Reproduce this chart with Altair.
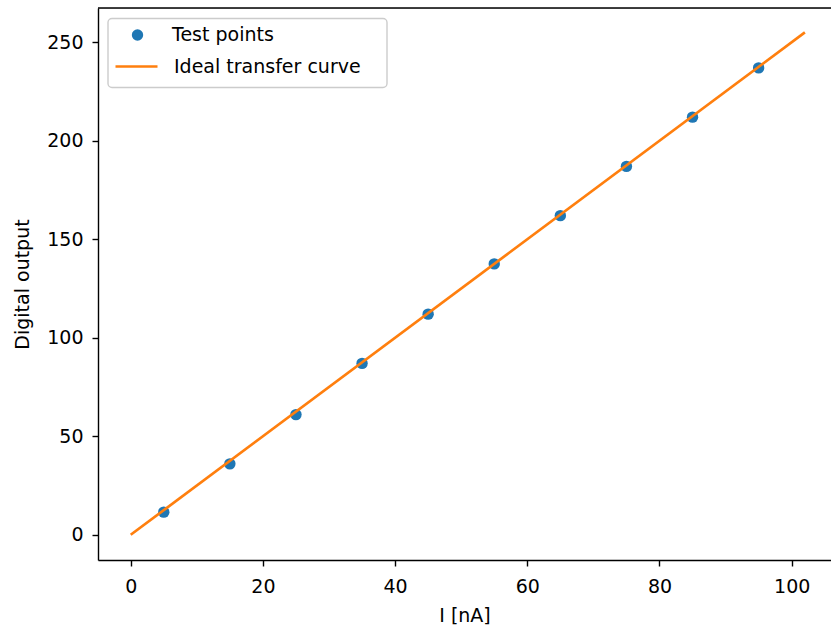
import altair as alt
import pandas as pd

# Measured ADC codes for the test currents
test_current_na = [5, 15, 25, 35, 45, 55, 65, 75, 85, 95]
test_code = [11.5, 36, 61, 87, 112, 137.5, 162, 187, 212, 237]

# Ideal transfer curve end points
ideal_current_na = [0, 102]
ideal_code = [0, 255]

FONT = "DejaVu Sans"
FS = 19
W, H = 733, 552

points_df = pd.DataFrame({"I": test_current_na, "code": test_code, "series": "Test points"})
ideal_df = pd.DataFrame({"I": ideal_current_na, "code": ideal_code, "series": "Ideal transfer curve"})
one = pd.DataFrame({"k": [0]})

x_scale = alt.Scale(domain=[-4.95, 105.95], nice=False, zero=False)
y_scale = alt.Scale(domain=[-12.8, 267.4], nice=False, zero=False)

x_axis = alt.Axis(values=[0, 20, 40, 60, 80, 100], title="I [nA]", grid=False,
                  tickSize=6, tickWidth=1.4, tickColor="black",
                  domainColor="black", domainWidth=1.4,
                  labelFont=FONT, labelFontSize=FS, labelColor="black", labelPadding=11,
                  titleFont=FONT, titleFontSize=FS, titleFontWeight="normal",
                  titleColor="black", titlePadding=10)
y_axis = alt.Axis(values=[0, 50, 100, 150, 200, 250], title="Digital output", grid=False,
                  tickSize=6, tickWidth=1.4, tickColor="black",
                  domainColor="black", domainWidth=1.4,
                  labelFont=FONT, labelFontSize=FS, labelColor="black", labelPadding=9,
                  titleFont=FONT, titleFontSize=FS, titleFontWeight="normal",
                  titleColor="black", titleX=-76, titleBaseline="middle")

# Legend frame
frame = alt.Chart(one).mark_rect(
    fill="white", stroke="#cccccc", strokeWidth=1.4, cornerRadius=4
).encode(x=alt.value(10), x2=alt.value(289), y=alt.value(10.5), y2=alt.value(79.5))

# Top spine
top_spine = alt.Chart(one).mark_rule(color="black", strokeWidth=1.4).encode(
    x=alt.value(0), x2=alt.value(W), y=alt.value(0)
)

pts = alt.Chart(points_df).mark_point(filled=True, size=130, opacity=1).encode(
    x=alt.X("I:Q", scale=x_scale, axis=x_axis),
    y=alt.Y("code:Q", scale=y_scale, axis=y_axis),
    color=alt.Color("series:N",
                    scale=alt.Scale(domain=["Test points"], range=["#1f77b4"]),
                    legend=alt.Legend(title=None, orient="none", legendX=30, legendY=17.5,
                                      padding=0, symbolType="circle", symbolSize=130,
                                      symbolStrokeWidth=0, labelOffset=25, labelLimit=0,
                                      labelFont=FONT, labelFontSize=FS, labelColor="black")),
)

line = alt.Chart(ideal_df).mark_line(strokeWidth=2.7).encode(
    x=alt.X("I:Q", scale=x_scale),
    y=alt.Y("code:Q", scale=y_scale),
    color=alt.Color("series:N",
                    scale=alt.Scale(domain=["Ideal transfer curve"], range=["#ff7f0e"]),
                    legend=alt.Legend(title=None, orient="none", legendX=16, legendY=36,
                                      padding=0, symbolType="stroke", symbolSize=1764,
                                      symbolStrokeWidth=2.7, labelOffset=15, labelLimit=0,
                                      labelFont=FONT, labelFontSize=FS, labelColor="black")),
)

chart = alt.layer(frame, top_spine, pts, line).resolve_scale(color="independent").properties(
    width=W, height=H,
    autosize=alt.AutoSizeParams(type="none"),
    padding={"left": 98, "top": 8, "right": 0, "bottom": 68},
).configure_view(stroke=None).configure(background="white")

chart.save("out.html", embed_options={"renderer": "svg", "actions": False})
